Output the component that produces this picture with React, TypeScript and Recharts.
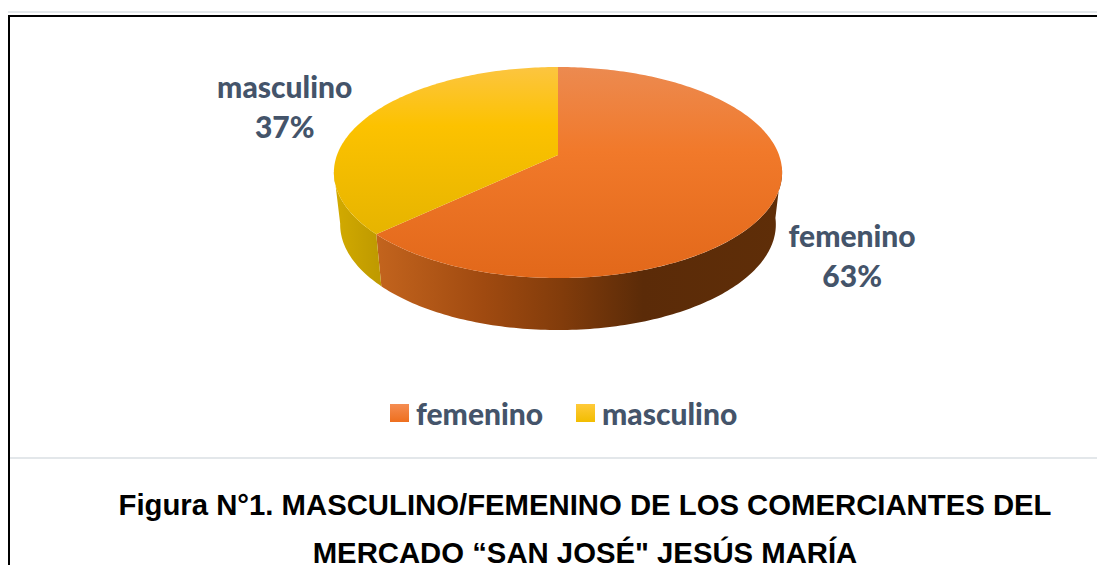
import { Cell, Legend, Pie, PieChart } from "recharts";

const categories = ["femenino", "masculino"];
const shares = [63, 37];
const titleLines = [
  "Figura N°1. MASCULINO/FEMENINO DE LOS COMERCIANTES DEL",
  "MERCADO “SAN JOSÉ\" JESÚS MARÍA",
];

const data = categories.map((name, i) => ({ name, value: shares[i] }));

const topFills = ["url(#femTop)", "url(#masTop)"];
const wallFills = ["url(#femWall)", "url(#masWall)"];
const legendSwatches = [
  "linear-gradient(180deg, #f58d52 0%, #ee6f1e 100%)",
  "linear-gradient(180deg, #ffca3a 0%, #f2bd00 100%)",
];
// which part of each slice's rim can be seen from the front
const wallRanges = [
  [96, 360],
  [0, 261],
];
const labelOffsets = [
  { x: 77, y: 38 },
  { x: -83, y: -29 },
];

// the tilted disc: apex of the slices sits above the centre of the ellipse
const APEX_X = 558;
const APEX_Y = 155;
const WALL = 52;
const project = (deg: number) => {
  const t = (deg * Math.PI) / 180;
  const u = Math.sin(t);
  const v = -Math.cos(t);
  const d = 1 - 0.166 * v;
  return { x: (221 * u) / d, y: (102.6 * v) / d };
};

const rim = (from: number, to: number) => {
  const pts: { x: number; y: number }[] = [];
  const n = Math.max(2, Math.ceil(Math.abs(to - from)));
  for (let i = 0; i <= n; i++) pts.push(project(from + ((to - from) * i) / n));
  return pts;
};

function Slice3D(props: any) {
  const idx = categories.indexOf(props.name);
  const from = 90 - props.startAngle;
  const to = 90 - props.endAngle;
  const top = rim(from, to)
    .map((p) => `L${APEX_X + p.x} ${APEX_Y + p.y}`)
    .join("");
  const a = Math.max(from, wallRanges[idx][0]);
  const b = Math.min(to, wallRanges[idx][1]);
  const upper = rim(a, b).map((p) => `${APEX_X + p.x},${APEX_Y + p.y}`);
  const lower = rim(a, b)
    .reverse()
    .map((p) => `${APEX_X + p.x * 0.972},${APEX_Y + p.y + WALL}`);
  return (
    <g>
      <polygon points={[...upper, ...lower].join(" ")} fill={wallFills[idx]} />
      <path d={`M${APEX_X} ${APEX_Y}${top}Z`} fill={topFills[idx]} />
    </g>
  );
}

function SliceLabel(props: any) {
  const idx = categories.indexOf(props.name);
  const p = project(90 - props.midAngle);
  const x = APEX_X + p.x + labelOffsets[idx].x;
  const y = APEX_Y + p.y + labelOffsets[idx].y;
  return (
    <text
      x={x}
      y={y}
      textAnchor="middle"
      fill="#44546a"
      fontFamily="Lato"
      fontWeight={900}
      fontSize={30}
    >
      <tspan x={x} dy={10}>
        {props.name}
      </tspan>
      <tspan x={x} dy={40}>
        {shares[idx]}%
      </tspan>
    </text>
  );
}

function LegendRow() {
  return (
    <div style={{ display: "flex", alignItems: "center" }}>
      {categories.map((name, i) => (
        <div
          key={name}
          style={{ display: "flex", alignItems: "center", gap: 7, width: i === 0 ? 186 : "auto" }}
        >
          <span style={{ width: 19, height: 18, background: legendSwatches[i] }} />
          <span
            style={{
              fontFamily: "Lato",
              fontWeight: 900,
              fontSize: 30,
              lineHeight: "34px",
              color: "#44546a",
              whiteSpace: "nowrap",
            }}
          >
            {name}
          </span>
        </div>
      ))}
    </div>
  );
}

export default function App() {
  return (
    <div
      style={{
        position: "fixed",
        left: 0,
        top: 0,
        width: 1097,
        height: 565,
        overflow: "hidden",
        background: "#fff",
      }}
    >
      <div style={{ position: "absolute", left: 8, right: 0, top: 11, height: 2, background: "#e3e7ea" }} />
      <div style={{ position: "absolute", left: 8, right: 0, top: 15, height: 2, background: "#000" }} />
      <div style={{ position: "absolute", left: 8, top: 15, bottom: 0, width: 2, background: "#000" }} />
      <div style={{ position: "absolute", left: 10, right: 0, top: 457, height: 2, background: "#e3e7ea" }} />

      <div style={{ position: "absolute", left: 0, top: 0 }}>
        <PieChart width={1097} height={460}>
          <defs>
            <linearGradient id="femTop" gradientUnits="userSpaceOnUse" x1="0" y1="67" x2="0" y2="278">
              <stop offset="0" stopColor="#ec8a50" />
              <stop offset="0.4" stopColor="#f1792a" />
              <stop offset="1" stopColor="#e2681a" />
            </linearGradient>
            <linearGradient id="masTop" gradientUnits="userSpaceOnUse" x1="0" y1="67" x2="0" y2="235">
              <stop offset="0" stopColor="#fcc540" />
              <stop offset="0.35" stopColor="#fcc200" />
              <stop offset="1" stopColor="#e6b400" />
            </linearGradient>
            <linearGradient id="femWall" gradientUnits="userSpaceOnUse" x1="373" y1="0" x2="782" y2="0">
              <stop offset="0" stopColor="#c4651e" />
              <stop offset="0.27" stopColor="#a04a10" />
              <stop offset="0.46" stopColor="#823c0b" />
              <stop offset="0.66" stopColor="#5b2b08" />
              <stop offset="1" stopColor="#5f2e08" />
            </linearGradient>
            <linearGradient id="masWall" gradientUnits="userSpaceOnUse" x1="336" y1="0" x2="378" y2="0">
              <stop offset="0" stopColor="#d2aa00" />
              <stop offset="1" stopColor="#bf9a00" />
            </linearGradient>
          </defs>
          <Pie
            data={data}
            dataKey="value"
            nameKey="name"
            cx={APEX_X}
            cy={APEX_Y}
            outerRadius={120}
            startAngle={90}
            endAngle={-270}
            stroke="none"
            shape={Slice3D}
            label={SliceLabel}
            labelLine={false}
            isAnimationActive={false}
          >
            {categories.map((name, i) => (
              <Cell key={name} fill={topFills[i]} />
            ))}
          </Pie>
          <Legend
            content={<LegendRow />}
            wrapperStyle={{ position: "absolute", left: 390, top: 396, width: "auto" }}
          />
        </PieChart>
      </div>

      {titleLines.map((line, i) => (
        <div
          key={line}
          style={{
            position: "absolute",
            left: 0,
            width: 1170,
            top: 492 + i * 48,
            textAlign: "center",
            fontFamily: "Liberation Sans",
            fontWeight: 700,
            fontSize: 29.3,
            lineHeight: "25px",
            color: "#000",
            whiteSpace: "nowrap",
          }}
        >
          {line}
        </div>
      ))}
    </div>
  );
}
